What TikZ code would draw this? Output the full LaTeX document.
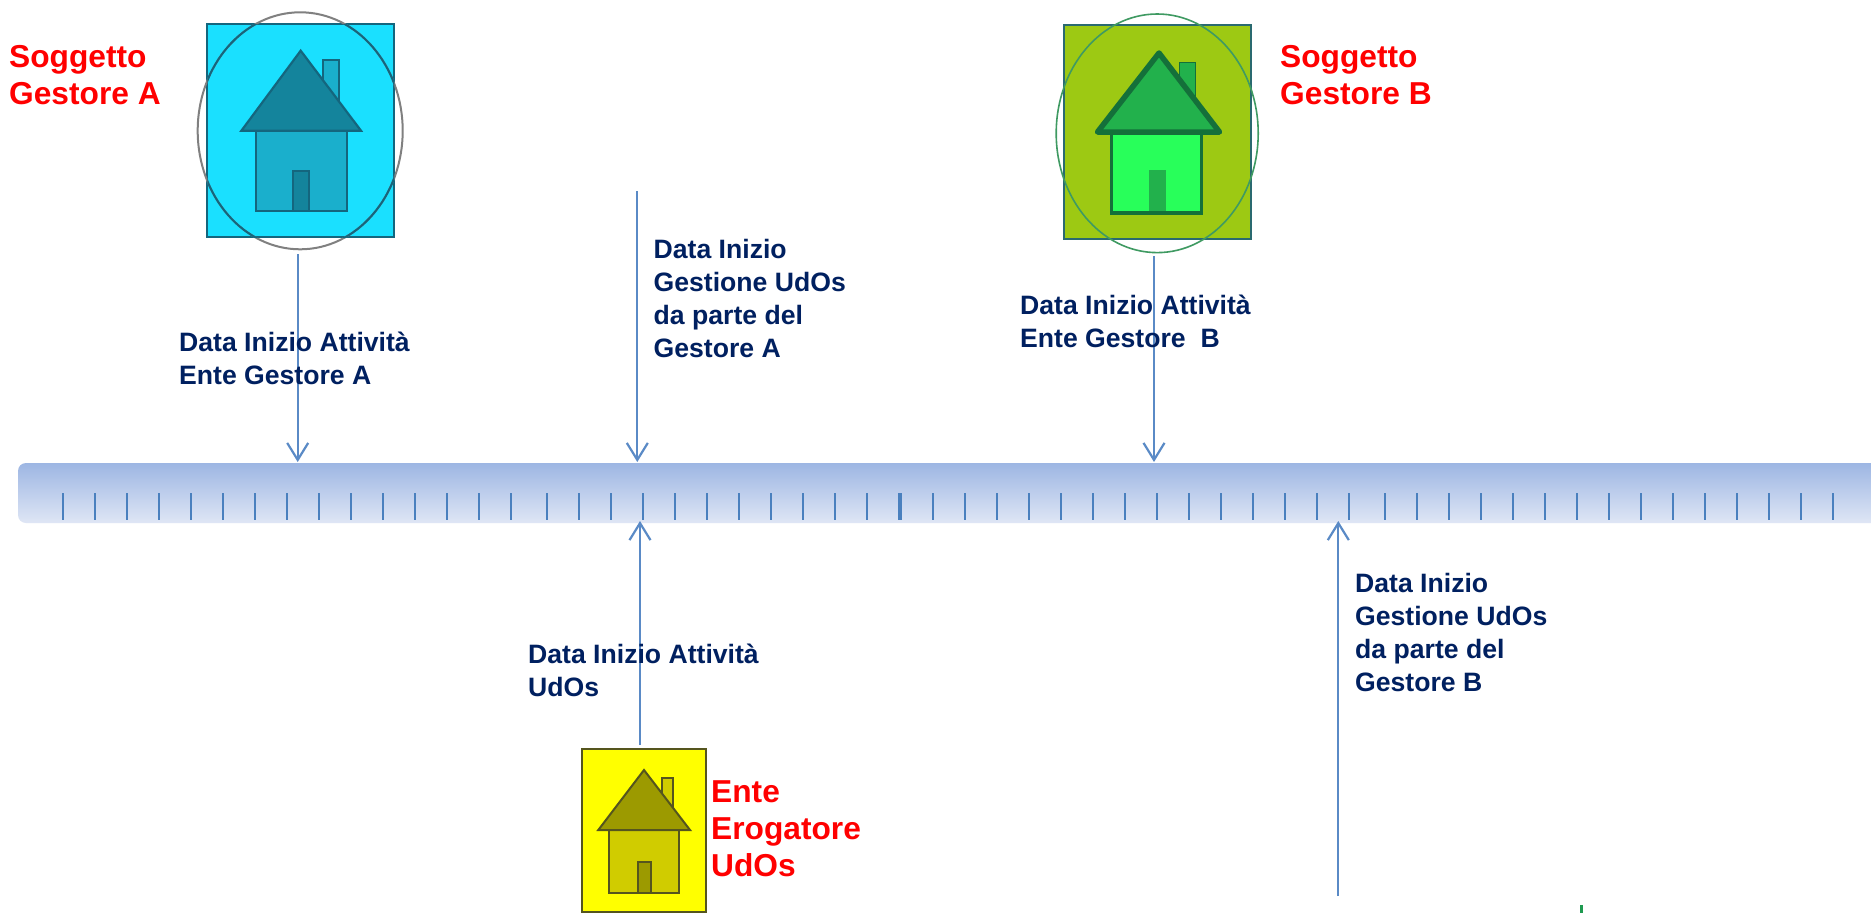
\documentclass[tikz,border=0pt]{standalone}
\usepackage{fontspec}
\setmainfont{Liberation Sans}
\usetikzlibrary{arrows.meta}
\definecolor{navy}{HTML}{002060}
\definecolor{conn}{HTML}{5A8AC6}
\definecolor{tick}{HTML}{4A80BE}
\definecolor{pureyellow}{HTML}{FFFF00}
\definecolor{purered}{HTML}{FF0000}
\definecolor{bandtop}{HTML}{9DB6E3}
\definecolor{bandbot}{HTML}{DFE6F5}
\tikzset{
  x=1pt,y=-1pt,
  redlabel/.style={anchor=west,align=left,inner sep=0pt,text=purered,font=\fontsize{31.7}{37}\selectfont\bfseries},
  navylabel/.style={anchor=west,align=left,inner sep=0pt,text=navy,font=\fontsize{26.6}{33}\selectfont\bfseries},
  timeband/.style={draw=none,rounded corners=8pt,top color=bandtop,bottom color=bandbot,minimum height=60pt,inner sep=0pt},
  arrowline/.style={draw=conn,line width=2.2pt,-{Straight Barb[length=17pt,width=21pt,line width=2.2pt]}},
  ticklabel/.style={draw=tick,line width=1.8pt},
}
\begin{document}
\begin{tikzpicture}
\useasboundingbox (0,0) rectangle (1871,913);
\clip (0,0) rectangle (1871,913);
\fill[white] (0,0) rectangle (1871,913);

% time band
\node[timeband,minimum width=1883pt] (band) at (959.5,493) {};
\foreach \s/\n in {63.3/14,547.3/11,901/14,1385/14}{
  \foreach \k in {0,...,\n}{
    \draw[ticklabel] ({\s+32*\k},493) -- ({\s+32*\k},520);
  }
}

% house A
\definecolor{aBox}{HTML}{1AE0FF}
\definecolor{aLine}{HTML}{14667E}
\definecolor{aRoof}{HTML}{14849C}
\definecolor{aBody}{HTML}{1AAFCC}
\fill[aBox] (207.3,24) rectangle (394.3,237);
\draw[aLine,line width=2pt] (207.3,24) rectangle (394.3,237);
\draw[gray,line width=2pt] (300.2,130.8) ellipse [x radius=102.5,y radius=118.5];
\begin{scope}
  \clip (207.3,24) rectangle (394.3,237);
  \draw[aLine,line width=2pt] (300.2,130.8) ellipse [x radius=102.5,y radius=118.5];
\end{scope}
\filldraw[fill=aBody,draw=aLine,line width=2.2pt] (323.3,105) -- (323.3,60) -- (339.3,60) -- (339.3,105) -- cycle;
\filldraw[fill=aBody,draw=aLine,line width=2.2pt] (256,130.7) rectangle (346.7,211);
\filldraw[fill=aRoof,draw=aLine,line width=2.2pt,line join=miter] (300.7,50.7) -- (361,130.7) -- (241.4,130.7) -- cycle;
\filldraw[fill=aRoof,draw=aLine,line width=2.2pt] (292.7,211) -- (292.7,170.7) -- (309.3,170.7) -- (309.3,211) -- cycle;

% house B
\definecolor{bBox}{HTML}{9DC913}
\definecolor{bLine}{HTML}{14703A}
\definecolor{bRoof}{HTML}{22B14C}
\definecolor{bBody}{HTML}{28FF5A}
\definecolor{bFrame}{HTML}{2A6A70}
\definecolor{bRing}{HTML}{3F9A62}
\fill[bBox] (1064,25.3) rectangle (1250.7,238.7);
\draw[draw=bFrame,line width=1.8pt] (1064,25.3) rectangle (1250.7,238.7);
\draw[draw=bRing,line width=1.6pt] (1157.2,133.3) ellipse [x radius=101,y radius=119.3];
\filldraw[fill=bRoof,draw=bLine,line width=1pt] (1179.8,105) -- (1179.8,62.8) -- (1195.6,62.8) -- (1195.6,105) -- cycle;
\filldraw[fill=bBody,draw=bLine,line width=3.5pt] (1111.7,132) rectangle (1201.7,213);
\filldraw[fill=bRoof,draw=bLine,line width=5.5pt,line join=round] (1159,53) -- (1219.5,132) -- (1097.5,132) -- cycle;
\fill[bRoof] (1148.7,170) rectangle (1166,211.2);

% house C
\definecolor{cLine}{HTML}{55551E}
\definecolor{cRoof}{HTML}{9C9A00}
\definecolor{cBody}{HTML}{D0CC00}
\filldraw[fill=pureyellow,draw=cLine,line width=2pt] (582.3,749.3) rectangle (706,912);
\filldraw[fill=cBody,draw=cLine,line width=2pt] (661.7,815) -- (661.7,777.7) -- (673.3,777.7) -- (673.3,815) -- cycle;
\filldraw[fill=cBody,draw=cLine,line width=2pt] (609.3,830) rectangle (679,893.3);
\filldraw[fill=cRoof,draw=cLine,line width=2pt] (644,770) -- (690,830) -- (598.3,830) -- cycle;
\filldraw[fill=cRoof,draw=cLine,line width=2pt] (638.3,893.3) -- (638.3,862.3) -- (650.7,862.3) -- (650.7,893.3) -- cycle;

% green mark at the bottom edge
\definecolor{gmark}{HTML}{1E9A50}
\fill[gmark] (1580.3,905) rectangle (1583.3,913);

% connectors
\coordinate (a1s) at (297.7,254);  \coordinate (a1e) at (297.7,462);
\coordinate (a2s) at (637.3,191);  \coordinate (a2e) at (637.3,462);
\coordinate (a3s) at (1154,256);   \coordinate (a3e) at (1154,462);
\coordinate (a4s) at (640,745);    \coordinate (a4e) at (640,521);
\coordinate (a5s) at (1338.3,896); \coordinate (a5e) at (1338.3,521);
\draw[arrowline] (a1s) -- (a1e);
\draw[arrowline] (a2s) -- (a2e);
\draw[arrowline] (a3s) -- (a3e);
\draw[arrowline] (a4s) -- (a4e);
\draw[arrowline] (a5s) -- (a5e);

% labels
\node[redlabel] (lA) at (9,75) {Soggetto\\Gestore A};
\node[redlabel] (lB) at (1280,75) {Soggetto\\Gestore B};
\node[redlabel] (lC) at (711,829) {Ente\\Erogatore\\UdOs};
\node[navylabel] (t1) at (179,358) {Data Inizio Attività\\Ente Gestore A};
\node[navylabel] (t2) at (653.5,298) {Data Inizio\\Gestione UdOs\\da parte del\\Gestore A};
\node[navylabel] (t3) at (1020,321) {Data Inizio Attività\\Ente Gestore\ \ B};
\node[navylabel] (t4) at (528,670) {Data Inizio Attività\\UdOs};
\node[navylabel] (t5) at (1355,632) {Data Inizio\\Gestione UdOs\\da parte del\\Gestore B};
\end{tikzpicture}
\end{document}
